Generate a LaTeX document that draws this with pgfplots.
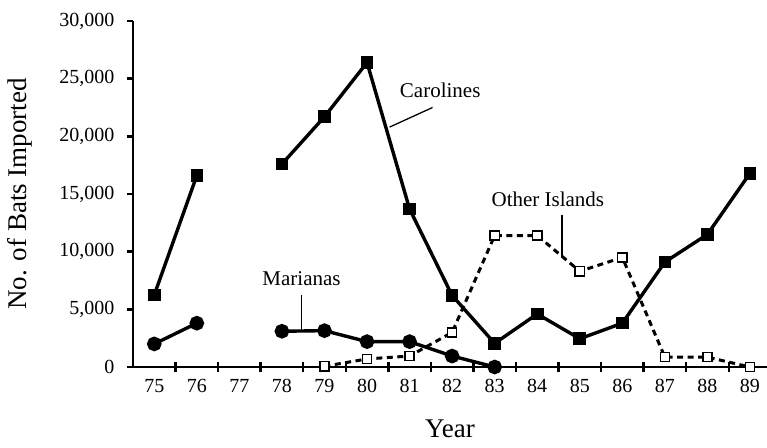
\documentclass[border=0pt]{standalone}
\usepackage{pgfplots}
\pgfplotsset{compat=1.18}
\usepackage{fontspec}
\setmainfont{Liberation Serif}

\begin{document}
\begin{tikzpicture}
\begin{axis}[
  scale only axis, width=634pt, height=346pt,
  xmin=74.5, xmax=89.4, ymin=0, ymax=30000,
  axis x line=bottom, axis y line=left,
  axis line style={line width=2.6pt, -},
  clip=false,
  unbounded coords=jump,
  scaled y ticks=false,
  xtick={75,76,77,78,79,80,81,82,83,84,85,86,87,88,89},
  xticklabels={75,76,77,78,79,80,81,82,83,84,85,86,87,88,89},
  major x tick style={draw=none},
  minor xtick={75.5,76.5,77.5,78.5,79.5,80.5,81.5,82.5,83.5,84.5,85.5,86.5,87.5,88.5},
  minor x tick style={line width=2.4pt, black},
  minor tick length=10pt,
  xtick align=center,
  ytick={0,5000,10000,15000,20000,25000,30000},
  yticklabels={0,{5,000},{10,000},{15,000},{20,000},{25,000},{30,000}},
  ytick align=outside,
  major y tick style={line width=2.4pt, black},
  major tick length=6pt,
  tick label style={font=\fontsize{20}{20}\selectfont},
  xticklabel style={yshift=-6pt},
  yticklabel style={xshift=-9pt},
  xlabel={Year},
  ylabel={No. of Bats Imported},
  label style={font=\fontsize{27}{27}\selectfont},
  xlabel shift=20pt,
  ylabel shift=20pt,
]
% Other Islands
\addplot[line width=3pt, dash pattern=on 6pt off 4.5pt, mark=square*, mark size=4.6pt,
  mark options={solid, fill=white, draw=black, line width=1.4pt}]
  coordinates {(79,60) (80,700) (81,950) (82,3000) (83,11400) (84,11400) (85,8300) (86,9500) (87,850) (88,850) (89,0)};
% Marianas
\addplot[line width=3.4pt, mark=*, mark size=5.6pt, mark options={solid, fill=black}]
  coordinates {(75,2000) (76,3800) (77,nan) (78,3100) (79,3150) (80,2200) (81,2200) (82,950) (83,0)};
% Carolines
\addplot[line width=3.4pt, mark=square*, mark size=4.6pt, mark options={solid, fill=black}]
  coordinates {(75,6250) (76,16600) (77,nan) (78,17600) (79,21700) (80,26400) (81,13700) (82,6200) (83,2050) (84,4600) (85,2450) (86,3800) (87,9100) (88,11500) (89,16800)};

\node[font=\fontsize{21}{21}\selectfont] at (axis cs:81.72,24000) {Carolines};
\draw[line width=1.3pt] (axis cs:81.54,22500) -- (axis cs:80.53,20800);
\node[font=\fontsize{21}{21}\selectfont] at (axis cs:84.25,14500) {Other Islands};
\draw[line width=1.3pt] (axis cs:84.58,13200) -- (axis cs:84.58,9500);
\node[font=\fontsize{21}{21}\selectfont] at (axis cs:78.46,7700) {Marianas};
\draw[line width=1.3pt] (axis cs:78.46,6200) -- (axis cs:78.46,3150);
\end{axis}
\pgfresetboundingbox
\path ([shift={(-133pt,-80pt)}]current axis.south west) ([yshift=21pt]current axis.north east);
\end{tikzpicture}
\end{document}
